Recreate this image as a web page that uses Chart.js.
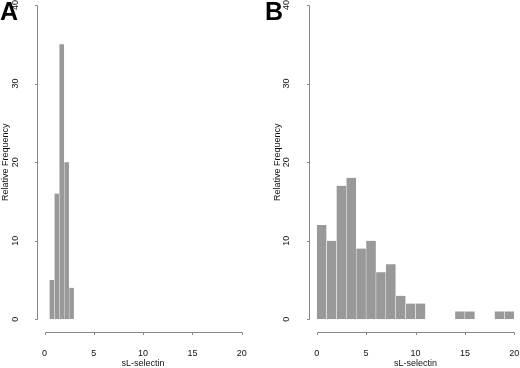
<!DOCTYPE html>
<html><head><meta charset="utf-8">
<script src="https://cdn.jsdelivr.net/npm/chart.js@4.4.0/dist/chart.umd.min.js"></script>
<style>
html,body{margin:0;padding:0;background:#fff;}
#wrap{position:relative;width:520px;height:368px;overflow:hidden;background:#fff;}
canvas{position:absolute;top:0;}
.lab{position:absolute;top:-1px;font:bold 25px "Liberation Sans",Arial,sans-serif;line-height:25px;color:#000;}
</style></head><body>
<div id="wrap">
<canvas id="cA" width="260" height="368" style="left:0"></canvas>
<canvas id="cB" width="260" height="368" style="left:260px"></canvas>
<div class="lab" style="left:0">A</div>
<div class="lab" style="left:265px">B</div>
</div>
<script>
// ---- data ----
const binStartsA = [0.5, 1.0, 1.5, 2.0, 2.5];
const countsA    = [5, 16, 35, 20, 4];
const binWidthA  = 0.5;
const binStartsB = [0, 1, 2, 3, 4, 5, 6, 7, 8, 9, 10, 14, 15, 18, 19];
const countsB    = [12, 10, 17, 18, 9, 10, 6, 7, 3, 2, 2, 1, 1, 1, 1];
const binWidthB  = 1;
const xTicks = [0, 5, 10, 15, 20];
const yTicks = [0, 10, 20, 30, 40];
const xTitle = 'sL-selectin';
const yTitle = 'Relative Frequency';

const FAM = '"Liberation Sans", Arial, Helvetica, sans-serif';
const TXT = '#111';
const AXC = '#888';

const rAxes = {
  id: 'rAxes',
  afterDraw(chart) {
    const {ctx} = chart; const x = chart.scales.x, y = chart.scales.y;
    const xr = xTicks[xTicks.length-1] - xTicks[0];
    const yr = yTicks[yTicks.length-1] - yTicks[0];
    const px = Math.round(x.getPixelForValue(xTicks[0] - 0.04*xr)) + 0.5;
    const py = Math.round(y.getPixelForValue(yTicks[0] - 0.04*yr)) + 0.5;
    ctx.save();
    ctx.strokeStyle = AXC; ctx.lineWidth = 1;
    ctx.beginPath();
    ctx.moveTo(px, Math.round(y.getPixelForValue(yTicks[0]))+0.5);
    ctx.lineTo(px, Math.round(y.getPixelForValue(yTicks[yTicks.length-1]))+0.5);
    yTicks.forEach(v => { const p = Math.round(y.getPixelForValue(v))+0.5; ctx.moveTo(px, p); ctx.lineTo(px-2.5, p); });
    ctx.moveTo(Math.round(x.getPixelForValue(xTicks[0]))+0.5, py);
    ctx.lineTo(Math.round(x.getPixelForValue(xTicks[xTicks.length-1]))+0.5, py);
    xTicks.forEach(v => { const p = Math.round(x.getPixelForValue(v))+0.5; ctx.moveTo(p, py); ctx.lineTo(p, py+2.5); });
    ctx.stroke();
    ctx.restore();
  }
};

function zeroPad(s){ s.paddingTop = 0; s.paddingBottom = 0; s.paddingLeft = 0; s.paddingRight = 0; }

function makeChart(id, starts, counts, w, cfg) {
  const pts = starts.map((s, i) => ({x: s + w/2, y: counts[i]}));
  return new Chart(document.getElementById(id), {
    type: 'bar',
    data: { datasets: [{ data: pts, backgroundColor: '#999999', borderColor: '#ffffff',
      borderWidth: {left: 0.5, right: 0.5, top: 0, bottom: 0}, borderSkipped: false,
      barPercentage: 1, categoryPercentage: 1 }] },
    options: {
      responsive: false, animation: false, devicePixelRatio: 1,
      layout: { padding: { left: 0, right: cfg.right, top: 5, bottom: 0 } },
      plugins: { legend: {display: false}, tooltip: {enabled: false} },
      scales: {
        x: { type: 'linear', min: xTicks[0], max: xTicks[xTicks.length-1], offset: false,
          afterBuildTicks: s => { s.ticks = xTicks.map(v => ({value: v})); },
          afterFit: s => { s.height = 48.7; zeroPad(s); },
          grid: {display: false, offset: false}, border: {display: false},
          ticks: { padding: 21.9, color: TXT, maxRotation: 0, autoSkip: false,
            font: {family: FAM, size: 9, lineHeight: 1} },
          title: { display: true, text: xTitle, color: TXT, padding: {top: 0, bottom: 0},
            font: {family: FAM, size: 9, lineHeight: 1} } },
        y: { type: 'linear', min: yTicks[0], max: yTicks[yTicks.length-1],
          afterBuildTicks: s => { s.ticks = yTicks.map(v => ({value: v})); },
          afterFit: s => { s.width = cfg.yW; zeroPad(s); },
          grid: {display: false}, border: {display: false},
          ticks: { padding: cfg.yLabPad, color: TXT, minRotation: 90, maxRotation: 90,
            crossAlign: 'center', autoSkip: false, font: {family: FAM, size: 9, lineHeight: 1} },
          title: { display: true, text: yTitle, color: TXT, padding: {top: cfg.yTitlePad, bottom: 0},
            font: {family: FAM, size: 9, lineHeight: 1} } }
      }
    },
    plugins: [rAxes]
  });
}

makeChart('cA', binStartsA, countsA, binWidthA, {right: 18.3, yW: 44.5, yLabPad: 16.2, yTitlePad: 1});
makeChart('cB', binStartsB, countsB, binWidthB, {right: 5.7, yW: 56.7, yLabPad: 16.7, yTitlePad: 13});
</script>
</body></html>
